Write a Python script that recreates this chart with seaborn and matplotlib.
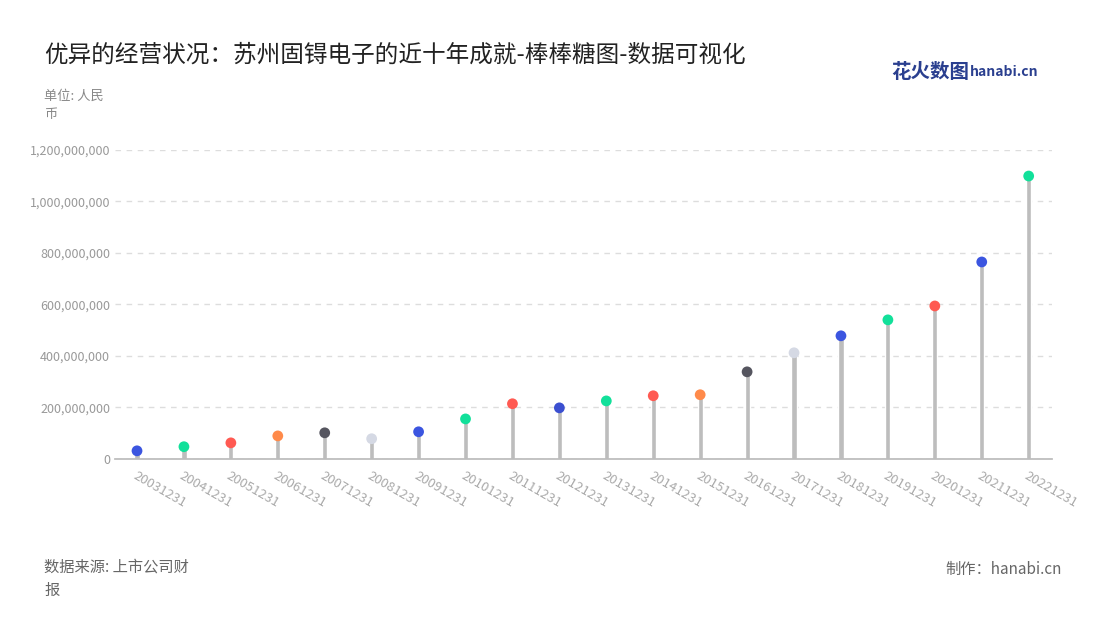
import matplotlib
matplotlib.use("Agg")
import matplotlib.pyplot as plt
import seaborn as sns
import pandas as pd

dates = ["20031231","20041231","20051231","20061231","20071231","20081231","20091231",
         "20101231","20111231","20121231","20131231","20141231","20151231","20161231",
         "20171231","20181231","20191231","20201231","20211231","20221231"]
values = [31e6,47e6,62e6,89e6,101e6,78e6,105e6,155e6,214e6,198e6,225e6,245e6,249e6,
          338e6,412e6,478e6,540e6,594e6,765e6,1099e6]
colors = ["#3b55e0","#12e09a","#ff5a52","#ff8a4a","#55555f","#d5d9e4","#3b55e0",
          "#12e09a","#ff5a52","#3b4fd0","#12e09a","#ff5a52","#ff8a4a","#55555f",
          "#d5d9e4","#3b55e0","#12e09a","#ff5a52","#3b55e0","#12e09a"]

sns.set_theme(style="white")
plt.rcParams['font.family'] = ['Noto Sans CJK SC', 'DejaVu Sans']

df = pd.DataFrame({"date": dates, "value": values})
fig = plt.figure(figsize=(11, 6.2), dpi=100)
ax = fig.add_axes([0.1045, 0.26, 0.852, 0.498])

sns.barplot(data=df, x="date", y="value", color="#bdbdbd", width=0.11, ax=ax, zorder=2)
ax.scatter(range(len(dates)), values, c=colors, s=60, zorder=3, edgecolors="none")

ax.set_ylim(0, 1.2e9)
ax.set_xlim(-0.47, len(dates) - 0.5)
ax.set_yticks([0, 2e8, 4e8, 6e8, 8e8, 10e8, 12e8])
ax.set_yticklabels([f"{int(v):,}" for v in ax.get_yticks()], fontsize=9, color="#999999")
ax.set_xticks(range(len(dates)))
ax.set_xticklabels(dates, rotation=-30, ha="left", rotation_mode="anchor", fontsize=9.5, color="#aaaaaa")
ax.yaxis.grid(True, linestyle=(0, (4, 4)), color="#dddddd", zorder=0)
ax.set_xlabel(""); ax.set_ylabel("")
for s in ["top", "right", "left"]:
    ax.spines[s].set_visible(False)
ax.spines["bottom"].set_color("#bbbbbb")
ax.tick_params(axis="x", length=4, color="#bbbbbb")
ax.tick_params(axis="y", length=0)

fig.text(0.04, 0.9, "优异的经营状况：苏州固锝电子的近十年成就-棒棒糖图-数据可视化", fontsize=17, color="#222222")
fig.text(0.04, 0.81, "单位: 人民\n币", fontsize=9.5, color="#888888", linespacing=1.5)
fig.text(0.04, 0.04, "数据来源: 上市公司财\n报", fontsize=11, color="#666666", linespacing=1.5)
fig.text(0.965, 0.075, "制作：hanabi.cn", fontsize=11, color="#666666", ha="right")
fig.text(0.81, 0.875, "花火数图", fontsize=14, color="#2a3f8f", fontweight="bold")
fig.text(0.882, 0.878, "hanabi.cn", fontsize=10, color="#2a3f8f", fontweight="bold")

fig.savefig("out.png", dpi=100)
